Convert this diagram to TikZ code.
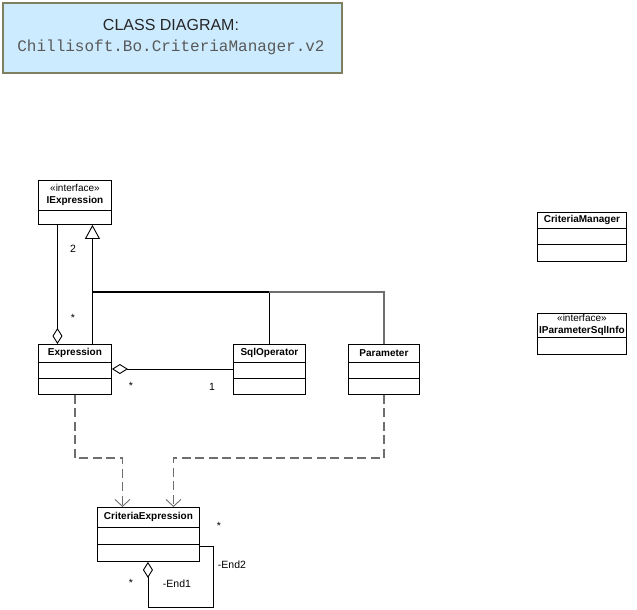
\documentclass[tikz,border=0pt]{standalone}
\usepackage{fontspec}
\setmainfont{Liberation Sans}
\newfontfamily\codefont{Liberation Mono}
\usetikzlibrary{arrows.meta}

\definecolor{titlefill}{HTML}{CCEBFF}
\definecolor{titleedge}{HTML}{7F8062}
\definecolor{dimline}{HTML}{6E6E6E}

\tikzset{
  cls/.style={draw=black, line width=0.9pt, fill=white, anchor=north west, inner sep=0pt},
  cname/.style={font=\fontsize{10}{12}\selectfont, align=center, inner sep=0pt},
  sepline/.style={draw=black, line width=0.9pt},
  assoc/.style={draw=black, line width=0.9pt},
  generalize/.style={draw=black, line width=1.1pt},
  generalizeB/.style={draw=dimline, line width=1.1pt},
  depends/.style={draw=dimline, line width=1.2pt, dash pattern=on 9pt off 4.5pt,
    -{Straight Barb[length=7pt, width=15pt, line width=0.9pt]}},
  aggr/.style={{Diamond[open, length=16pt, width=10pt, line width=0.9pt]}-},
  mult/.style={font=\fontsize{10.5}{12}\selectfont, inner sep=0pt},
}

% class box: id, x, top y, width, height
\newcommand\umlclass[5]{%
  \node[cls, minimum width=#4pt, minimum height=#5pt] (#1) at (#2,#3) {};}
% compartment divider: id, distance below the top edge
\newcommand\umlsep[2]{%
  \draw[sepline] ([yshift=-#2pt]#1.north west) -- ([yshift=-#2pt]#1.north east);}

\begin{document}
\begin{tikzpicture}[x=1pt, y=-1pt]
\useasboundingbox (0,0) rectangle (637,610);

% title
\node[draw=titleedge, line width=1.6pt, fill=titlefill, anchor=north west,
      minimum width=339pt, minimum height=70pt, inner sep=0pt] (title) at (2,2) {};
\node[font=\fontsize{16}{18}\selectfont, text=black!85] (titleA) at (171,25) {CLASS DIAGRAM:};
\node[font=\codefont\fontsize{16}{18}\selectfont, text=black!65] (titleB) at (171,47) {Chillisoft.Bo.CriteriaManager.v2};

% classes
\umlclass{iexpr}{38}{180}{73}{44}
\umlsep{iexpr}{30}
\node[cname] (iexprN) at ([yshift=-15pt]iexpr.north) {«interface»\\\textbf{IExpression}};

\umlclass{expr}{38}{344}{73}{50}
\umlsep{expr}{18}\umlsep{expr}{34}
\node[cname] (exprN) at ([yshift=-9pt]expr.north) {\textbf{Expression}};

\umlclass{sqlop}{233}{344}{72}{50}
\umlsep{sqlop}{18}\umlsep{sqlop}{34}
\node[cname] (sqlopN) at ([yshift=-9pt]sqlop.north) {\textbf{SqlOperator}};

\umlclass{param}{348}{344}{71}{50}
\umlsep{param}{18}\umlsep{param}{34}
\node[cname] (paramN) at ([yshift=-9pt]param.north) {\textbf{Parameter}};

\umlclass{cmgr}{537}{212}{89}{49}
\umlsep{cmgr}{16}\umlsep{cmgr}{32}
\node[cname] (cmgrN) at ([yshift=-8pt]cmgr.north) {\textbf{CriteriaManager}};

\umlclass{ipsql}{537}{313}{89}{41}
\umlsep{ipsql}{24}
\node[cname] (ipsqlN) at ([yshift=-12pt]ipsql.north) {«interface»\\\textbf{IParameterSqlInfo}};

\umlclass{cexpr}{97}{507}{102}{54}
\umlsep{cexpr}{20}\umlsep{cexpr}{37}
\node[cname] (cexprN) at ([yshift=-10pt]cexpr.north) {\textbf{CriteriaExpression}};

% generalisation to IExpression
\coordinate (genJoin) at (92,292);
\coordinate (sqlJoin) at (269,292);
\draw[generalize, -{Triangle[open, length=14pt, width=15pt, line width=0.9pt]}]
  ([xshift=17.5pt]expr.north) -- ([xshift=17.5pt]iexpr.south);
\draw[generalize] (sqlop.north) |- (genJoin);
\draw[generalizeB] (param.north) |- (sqlJoin);

% aggregation IExpression -- Expression
\draw[assoc, aggr] ([xshift=-17.5pt]expr.north) -- ([xshift=-17.5pt]iexpr.south);
\node[mult] (m2) at (73,249) {2};
\node[mult] (m3) at (73,318) {*};

% aggregation Expression -- SqlOperator
\draw[assoc, aggr] ([yshift=-25pt]expr.north east) -- ([yshift=-25pt]sqlop.north west);
\node[mult] (m4) at (131,386) {*};
\node[mult] (m5) at (212,387) {1};

% dependencies on CriteriaExpression
\coordinate (depL) at (75,458);
\coordinate (depR) at (384,458);
\draw[depends] ([xshift=-37pt]expr.south east) |- ([xshift=-26pt]depL -| cexpr.north)
  -- ([xshift=-26pt]cexpr.north);
\draw[depends] (param.south) |- ([xshift=25pt]depR -| cexpr.north)
  -- ([xshift=25pt]cexpr.north);

% self association End1 / End2
\coordinate (selfA) at (213,607);
\draw[assoc, aggr] ([xshift=-0.5pt]cexpr.south) -- ([xshift=-0.5pt]cexpr.south |- selfA)
  -- (selfA) |- ([yshift=-39pt]cexpr.north east);
\node[mult] (m6) at (219,526) {*};
\node[mult] (m7) at (232,565) {-End2};
\node[mult] (m8) at (177,584) {-End1};
\node[mult] (m9) at (131,583) {*};
\end{tikzpicture}
\end{document}
